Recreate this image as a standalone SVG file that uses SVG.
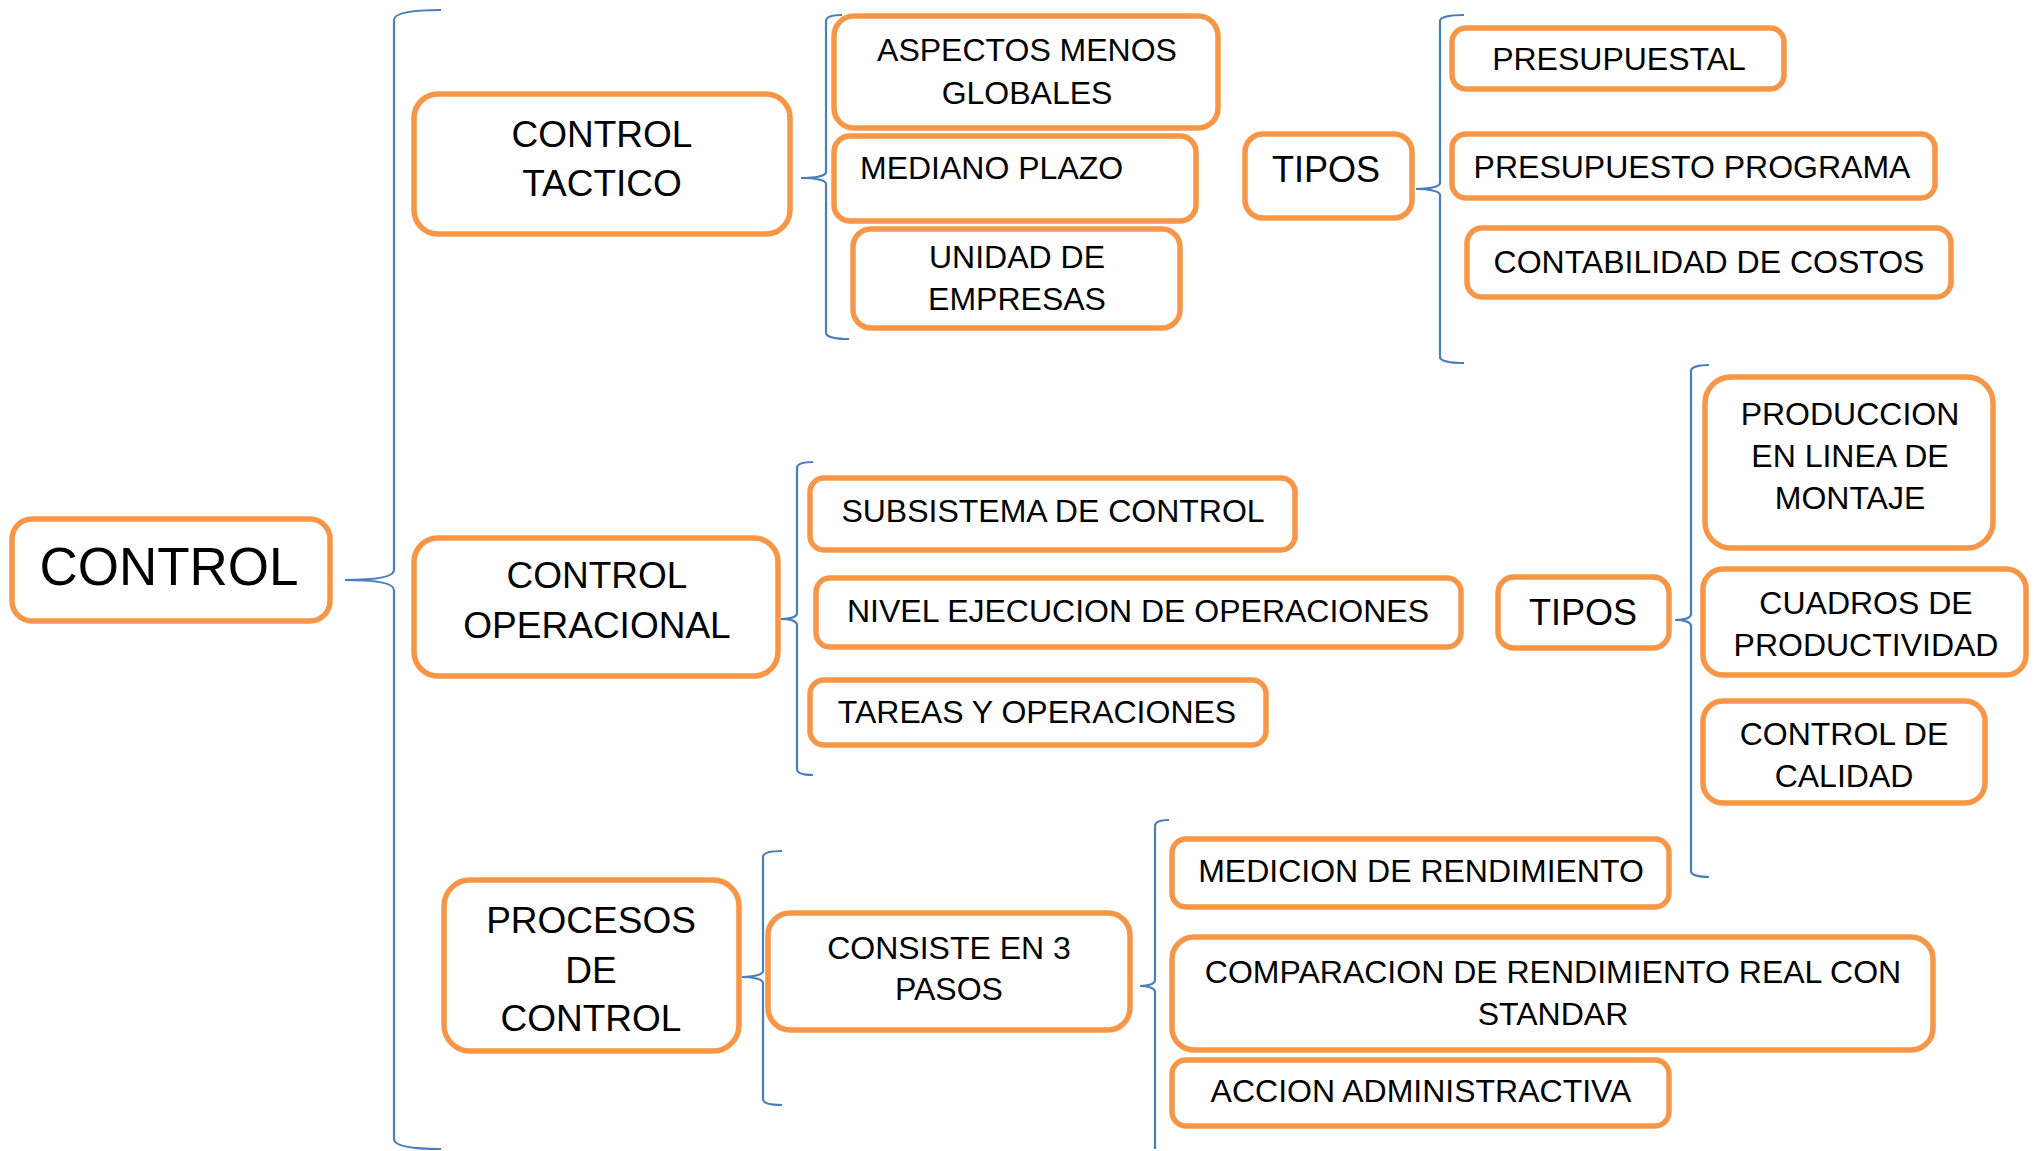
<svg xmlns="http://www.w3.org/2000/svg" width="2034" height="1151" viewBox="0 0 2034 1151">
<style>
.box{fill:#fff;stroke:#F79646;stroke-width:5.5}
.br{fill:none;stroke:#4A7EBB;stroke-width:2.2}
text{font-family:"Liberation Sans",Arial,sans-serif;fill:#000;text-anchor:middle}
.s{font-size:32px}
.m{font-size:37px}
.l{font-size:53px}
</style>
<rect width="2034" height="1151" fill="#fff"/>
<g id="connectors">
<path class="br" d="M441,10 C410,10 394,13 394,20 L394,570 C394,576 380,580 345,580 C380,580 394,584 394,590 L394,1139 C394,1146 410,1149 441,1149"/>
<path class="br" d="M842,15 C832,15 826,17 826,21 L826,172 C826,176 815,178 801,178 C815,178 826,180 826,184 L826,333 C826,337 836,339 849,339"/>
<path class="br" d="M1464,15 C1450,15 1440,17 1440,21 L1440,183 C1440,187 1428,189 1416,189 C1428,189 1440,191 1440,195 L1440,357 C1440,361 1450,363 1464,363"/>
<path class="br" d="M813,462 C803,462 797,464 797,468 L797,613 C797,617 790,619 781,619 C790,619 797,621 797,625 L797,769 C797,773 803,775 813,775"/>
<path class="br" d="M1709,365 C1699,365 1691,367 1691,371 L1691,614 C1691,618 1684,620 1675,620 C1684,620 1691,622 1691,626 L1691,871 C1691,875 1699,877 1709,877"/>
<path class="br" d="M782,851 C770,851 763,853 763,857 L763,971 C763,975 752,977 742,977 C752,977 763,979 763,983 L763,1099 C763,1103 770,1105 782,1105"/>
<path class="br" d="M1169,820 C1160,820 1155,822 1155,826 L1155,980 C1155,984 1148,986 1140,986 C1148,986 1155,988 1155,992 L1155,1149"/>
</g>
<g id="n-control"><rect class="box" x="12" y="519" width="318" height="102" rx="20"/><text class="l" x="169" y="585">CONTROL</text></g>
<g id="n-tactico"><rect class="box" x="414" y="94" width="376" height="140" rx="24"/><text class="m" x="602" y="147">CONTROL</text><text class="m" x="602" y="196">TACTICO</text></g>
<g id="n-aspectos"><rect class="box" x="834" y="16" width="384" height="112" rx="20"/><text class="s" x="1027" y="61">ASPECTOS MENOS</text><text class="s" x="1027" y="104">GLOBALES</text></g>
<g id="n-mediano"><rect class="box" x="834" y="136" width="362" height="85" rx="16"/><text class="s" x="860" y="179" style="text-anchor:start">MEDIANO PLAZO</text></g>
<g id="n-unidad"><rect class="box" x="853" y="229" width="327" height="99" rx="18"/><text class="s" x="1017" y="268">UNIDAD DE</text><text class="s" x="1017" y="310">EMPRESAS</text></g>
<g id="n-tipos1"><rect class="box" x="1245" y="134" width="167" height="84" rx="18"/><text class="m" x="1326" y="182" style="font-size:36px">TIPOS</text></g>
<g id="n-presupuestal"><rect class="box" x="1452" y="28" width="332" height="61" rx="14"/><text class="s" x="1619" y="70">PRESUPUESTAL</text></g>
<g id="n-programa"><rect class="box" x="1452" y="134" width="483" height="64" rx="14"/><text class="s" x="1692" y="178">PRESUPUESTO PROGRAMA</text></g>
<g id="n-costos"><rect class="box" x="1467" y="228" width="484" height="69" rx="15"/><text class="s" x="1709" y="273">CONTABILIDAD DE COSTOS</text></g>
<g id="n-operacional"><rect class="box" x="414" y="538" width="364" height="138" rx="24"/><text class="m" x="597" y="588">CONTROL</text><text class="m" x="597" y="638">OPERACIONAL</text></g>
<g id="n-subsistema"><rect class="box" x="810" y="478" width="485" height="72" rx="14"/><text class="s" x="1053" y="522">SUBSISTEMA DE CONTROL</text></g>
<g id="n-nivel"><rect class="box" x="816" y="578" width="645" height="69" rx="14"/><text class="s" x="1138" y="622">NIVEL EJECUCION DE OPERACIONES</text></g>
<g id="n-tareas"><rect class="box" x="810" y="680" width="456" height="65" rx="14"/><text class="s" x="1037" y="723">TAREAS Y OPERACIONES</text></g>
<g id="n-tipos2"><rect class="box" x="1498" y="577" width="171" height="71" rx="16"/><text class="m" x="1583" y="625" style="font-size:36px">TIPOS</text></g>
<g id="n-produccion"><rect class="box" x="1705" y="377" width="288" height="171" rx="26"/><text class="s" x="1850" y="425">PRODUCCION</text><text class="s" x="1850" y="467">EN LINEA DE</text><text class="s" x="1850" y="509">MONTAJE</text></g>
<g id="n-cuadros"><rect class="box" x="1703" y="569" width="323" height="106" rx="20"/><text class="s" x="1866" y="614">CUADROS DE</text><text class="s" x="1866" y="656">PRODUCTIVIDAD</text></g>
<g id="n-calidad"><rect class="box" x="1703" y="701" width="282" height="102" rx="20"/><text class="s" x="1844" y="745">CONTROL DE</text><text class="s" x="1844" y="787">CALIDAD</text></g>
<g id="n-procesos"><rect class="box" x="444" y="880" width="295" height="171" rx="26"/><text class="m" x="591" y="933">PROCESOS</text><text class="m" x="591" y="983">DE</text><text class="m" x="591" y="1031">CONTROL</text></g>
<g id="n-consiste"><rect class="box" x="768" y="913" width="362" height="117" rx="22"/><text class="s" x="949" y="959">CONSISTE EN 3</text><text class="s" x="949" y="1000">PASOS</text></g>
<g id="n-medicion"><rect class="box" x="1172" y="839" width="497" height="68" rx="14"/><text class="s" x="1421" y="882">MEDICION DE RENDIMIENTO</text></g>
<g id="n-comparacion"><rect class="box" x="1172" y="937" width="761" height="113" rx="22"/><text class="s" x="1553" y="983">COMPARACION DE RENDIMIENTO REAL CON</text><text class="s" x="1553" y="1025">STANDAR</text></g>
<g id="n-accion"><rect class="box" x="1172" y="1060" width="497" height="66" rx="14"/><text class="s" x="1421" y="1102">ACCION ADMINISTRACTIVA</text></g>
</svg>
